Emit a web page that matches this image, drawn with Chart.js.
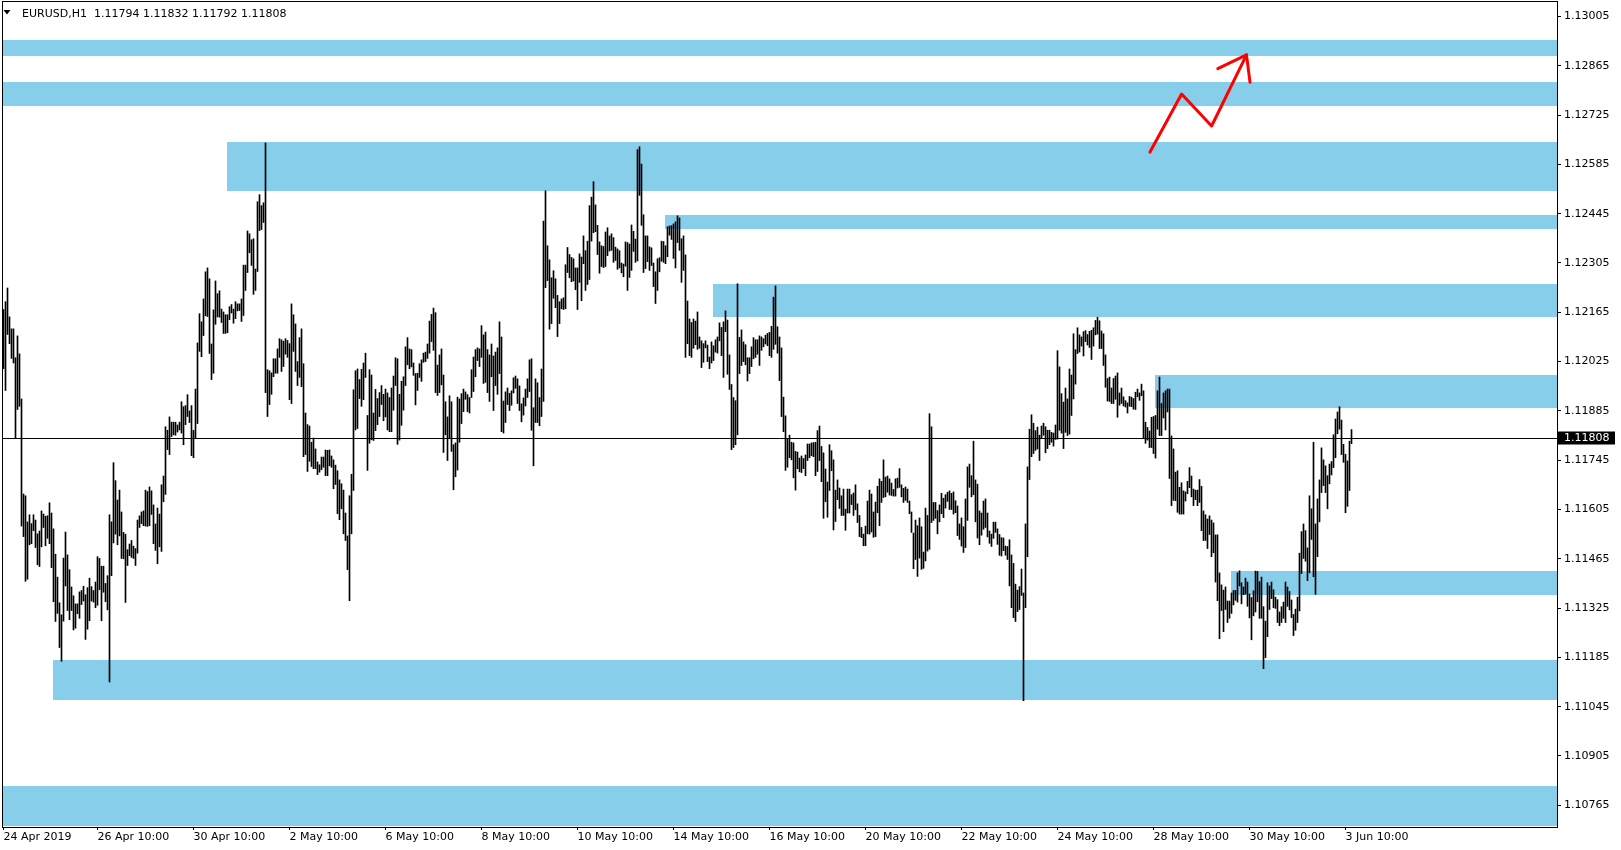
<!DOCTYPE html>
<html>
<head>
<meta charset="utf-8">
<script src="https://cdn.jsdelivr.net/npm/chart.js@4.4.1/dist/chart.umd.min.js"></script>
<style>
html,body{margin:0;padding:0;background:#fff;}
#wrap{width:1621px;height:850px;}
canvas{display:block;}
</style>
</head>
<body>
<div id="wrap"><canvas id="c" width="1621" height="850"></canvas></div>
<script>
// ---- DATA ----
const symbolName = 'EURUSD,H1';
const lastOHLC = [1.11794, 1.11832, 1.11792, 1.11808];

const highs = [
1.12173,1.12195,1.12234,1.12152,1.12118,1.12118,1.12036,1.12098,1.12047,1.11919,1.11649,1.11644,1.11570,1.11590,1.11565,1.11590,1.11575,1.11536,1.11544,1.11601,1.11592,1.11586,1.11587,1.11624,1.11595,1.11550,1.11478,1.11413,1.11340,1.11306,1.11467,1.11541,1.11476,1.11434,1.11385,1.11360,1.11337,1.11337,1.11371,1.11375,1.11387,1.11363,1.11383,1.11410,1.11386,1.11375,1.11399,1.11471,1.11466,1.11444,1.11444,1.11395,1.11417,1.11590,1.11570,1.11738,1.11687,1.11632,1.11660,1.11598,1.11540,1.11535,1.11491,1.11507,1.11517,1.11501,1.11494,1.11575,1.11587,1.11598,1.11601,1.11660,1.11656,1.11669,
1.11658,1.11618,1.11564,1.11609,1.11592,1.11675,1.11700,1.11840,1.11830,1.11868,1.11853,1.11853,1.11853,1.11845,1.11853,1.11911,1.11897,1.11900,1.11931,1.11885,1.11900,1.11830,1.11947,1.12078,1.12161,1.12138,1.12203,1.12280,1.12291,1.12260,1.12075,1.12172,1.12254,1.12218,1.12226,1.12174,1.12166,1.12158,1.12158,1.12181,1.12187,1.12174,1.12195,1.12189,1.12189,1.12203,1.12299,1.12299,1.12396,1.12388,1.12371,1.12374,1.12288,1.12479,1.12499,1.12468,1.12476,1.12646,1.12002,1.11999,1.11993,1.12033,1.12033,1.12061,1.12090,1.12087,1.12083,1.12090,1.12085,1.12076,1.12189,1.12158,1.12132,1.12025,1.12093,
1.12118,1.12019,1.11879,1.11846,1.11842,1.11796,1.11808,1.11777,1.11740,1.11732,1.11754,1.11754,1.11774,1.11773,1.11774,1.11757,1.11746,1.11731,1.11715,1.11689,1.11678,1.11660,1.11595,1.11530,1.11644,1.11705,1.11945,1.11999,1.12004,1.11974,1.12003,1.12021,1.12049,1.11872,1.12002,1.11987,1.11879,1.11946,1.11920,1.11937,1.11957,1.11932,1.11947,1.11936,1.11923,1.11950,1.11984,1.12036,1.12033,1.11932,1.11969,1.11982,1.12067,1.12093,1.12061,1.12059,1.12021,1.11991,1.11992,1.12019,1.12030,1.12049,1.12052,1.12075,1.12140,1.12159,1.12177,1.12164,1.12015,1.12044,1.12061,1.11987,1.11911,1.11868,1.11928,
1.11911,1.11789,1.11794,1.11924,1.11919,1.11934,1.11947,1.11939,1.11931,1.11923,1.12002,1.12038,1.12059,1.12064,1.12061,1.12127,1.12101,1.12109,1.12059,1.12044,1.12075,1.12041,1.12052,1.12064,1.12138,1.12095,1.11913,1.11939,1.11950,1.11935,1.11942,1.11979,1.11984,1.11976,1.11956,1.11905,1.11922,1.11947,1.11976,1.12030,1.12033,1.11894,1.11976,1.11965,1.11923,1.12004,1.12424,1.12510,1.12354,1.12314,1.12263,1.12283,1.12260,1.12213,1.12195,1.12203,1.12206,1.12300,1.12349,1.12329,1.12321,1.12317,1.12291,1.12291,1.12331,1.12322,1.12382,1.12340,1.12367,1.12468,1.12492,1.12536,1.12470,1.12412,1.12365,
1.12354,1.12352,1.12393,1.12405,1.12382,1.12388,1.12377,1.12350,1.12345,1.12340,1.12305,1.12302,1.12365,1.12363,1.12359,1.12413,1.12395,1.12373,1.12627,1.12635,1.12586,1.12442,1.12382,1.12382,1.12351,1.12348,1.12305,1.12280,1.12317,1.12320,1.12367,1.12366,1.12354,1.12408,1.12410,1.12411,1.12416,1.12422,1.12439,1.12433,1.12374,1.12382,1.12328,1.12197,1.12146,1.12136,1.12146,1.12140,1.12166,1.12095,1.12084,1.12076,1.12084,1.12072,1.12038,1.12081,1.12070,1.12087,1.12095,1.12135,1.12122,1.12138,1.12169,1.12143,1.12044,1.11960,1.11923,1.11914,1.12246,1.12094,1.12115,1.12081,1.12073,1.12036,1.12036,
1.12067,1.12093,1.12087,1.12087,1.12098,1.12095,1.12090,1.12100,1.12105,1.12108,1.12125,1.12208,1.12240,1.12124,1.12095,1.12064,1.11924,1.11871,1.11804,1.11816,1.11796,1.11794,1.11770,1.11768,1.11751,1.11757,1.11750,1.11760,1.11791,1.11791,1.11794,1.11795,1.11796,1.11829,1.11842,1.11784,1.11766,1.11720,1.11683,1.11789,1.11772,1.11746,1.11660,1.11689,1.11666,1.11644,1.11663,1.11606,1.11663,1.11663,1.11647,1.11652,1.11675,1.11621,1.11588,1.11554,1.11535,1.11558,1.11629,1.11660,1.11649,1.11598,1.11626,1.11671,1.11692,1.11685,1.11746,1.11697,1.11700,1.11692,1.11680,1.11662,1.11692,1.11694,1.11721,
1.11675,1.11665,1.11669,1.11663,1.11629,1.11598,1.11538,1.11575,1.11559,1.11581,1.11556,1.11484,1.11609,1.11588,1.11877,1.11840,1.11625,1.11625,1.11602,1.11618,1.11651,1.11637,1.11647,1.11654,1.11658,1.11651,1.11655,1.11630,1.11615,1.11564,1.11581,1.11556,1.11635,1.11726,1.11734,1.11701,1.11799,1.11689,1.11677,1.11601,1.11595,1.11629,1.11635,1.11595,1.11544,1.11535,1.11569,1.11569,1.11550,1.11534,1.11525,1.11524,1.11501,1.11500,1.11519,1.11476,1.11452,1.11393,1.11376,1.11386,1.11436,1.11368,1.11564,1.11726,1.11833,1.11874,1.11850,1.11829,1.11839,1.11816,1.11842,1.11850,1.11840,1.11830,1.11830,
1.11824,1.11822,1.11845,1.12056,1.12010,1.11934,1.11910,1.11950,1.11919,1.12004,1.11987,1.12104,1.12059,1.12121,1.12101,1.12095,1.12110,1.12113,1.12102,1.12111,1.12114,1.12121,1.12142,1.12151,1.12141,1.12112,1.12104,1.12044,1.11977,1.11981,1.11950,1.11977,1.11984,1.11993,1.11936,1.11950,1.11925,1.11914,1.11908,1.11926,1.11924,1.11920,1.11938,1.11947,1.11936,1.11961,1.11942,1.11853,1.11838,1.11828,1.11867,1.11869,1.11872,1.11942,1.11981,1.11906,1.11936,1.11942,1.11947,1.11947,1.11814,1.11777,1.11711,1.11715,1.11668,1.11681,1.11658,1.11655,1.11685,1.11724,1.11700,1.11663,1.11660,1.11660,1.11690,
1.11671,1.11601,1.11590,1.11578,1.11587,1.11575,1.11567,1.11533,1.11533,1.11425,1.11391,1.11376,1.11385,1.11345,1.11345,1.11368,1.11375,1.11375,1.11425,1.11431,1.11397,1.11385,1.11410,1.11399,1.11365,1.11355,1.11374,1.11430,1.11429,1.11400,1.11413,1.11329,1.11288,1.11397,1.11388,1.11399,1.11377,1.11356,1.11349,1.11314,1.11329,1.11342,1.11399,1.11385,1.11372,1.11348,1.11307,1.11322,1.11356,1.11481,1.11542,1.11564,1.11545,1.11496,1.11644,1.11607,1.11796,1.11564,1.11635,1.11689,1.11780,1.11746,1.11729,1.11701,1.11734,1.11741,1.11817,1.11862,1.11882,1.11897,1.11859,1.11790,1.11762,1.11743,1.11799,1.11832
];

const lows = [
1.12005,1.11943,1.12102,1.12076,1.12034,1.12021,1.11808,1.11889,1.11898,1.11558,1.11528,1.11401,1.11407,1.11505,1.11508,1.11545,1.11497,1.11448,1.11443,1.11499,1.11554,1.11502,1.11523,1.11508,1.11440,1.11343,1.11287,1.11310,1.11213,1.11174,1.11288,1.11388,1.11318,1.11292,1.11318,1.11263,1.11268,1.11309,1.11296,1.11335,1.11345,1.11236,1.11265,1.11289,1.11345,1.11342,1.11326,1.11333,1.11377,1.11289,1.11370,1.11343,1.11320,1.11115,1.11417,1.11510,1.11535,1.11505,1.11530,1.11466,1.11465,1.11341,1.11446,1.11474,1.11469,1.11466,1.11446,1.11481,1.11554,1.11565,1.11559,1.11558,1.11557,1.11559,
1.11591,1.11508,1.11489,1.11451,1.11499,1.11486,1.11627,1.11648,1.11775,1.11761,1.11812,1.11817,1.11816,1.11825,1.11831,1.11822,1.11789,1.11846,1.11869,1.11852,1.11758,1.11752,1.11808,1.11849,1.12054,1.12039,1.12099,1.12155,1.12153,1.12048,1.11974,1.11992,1.12131,1.12152,1.12151,1.12136,1.12105,1.12105,1.12107,1.12144,1.12163,1.12134,1.12147,1.12169,1.12170,1.12139,1.12156,1.12227,1.12278,1.12334,1.12298,1.12216,1.12227,1.12281,1.12397,1.12400,1.12420,1.11937,1.11869,1.11903,1.11932,1.11982,1.11992,1.11992,1.12037,1.11997,1.12011,1.12046,1.12037,1.11917,1.11906,1.12054,1.11997,1.11957,1.11980,
1.11954,1.11755,1.11761,1.11713,1.11742,1.11727,1.11721,1.11721,1.11704,1.11711,1.11718,1.11725,1.11701,1.11701,1.11729,1.11725,1.11664,1.11676,1.11593,1.11576,1.11607,1.11536,1.11517,1.11434,1.11346,1.11536,1.11659,1.11831,1.11835,1.11920,1.11898,1.11917,1.11980,1.11716,1.11793,1.11803,1.11801,1.11829,1.11846,1.11869,1.11903,1.11857,1.11868,1.11831,1.11826,1.11826,1.11887,1.11957,1.11790,1.11802,1.11844,1.11887,1.11957,1.12016,1.12005,1.12010,1.11986,1.11902,1.11943,1.11980,1.11969,1.12023,1.12025,1.12034,1.12049,1.12082,1.12057,1.11937,1.11929,1.11937,1.11959,1.11767,1.11817,1.11744,1.11808,
1.11770,1.11661,1.11698,1.11717,1.11796,1.11849,1.11883,1.11918,1.11883,1.11879,1.11923,1.11940,1.11982,1.12028,1.12011,1.12037,1.11963,1.11966,1.11937,1.11912,1.11982,1.11886,1.11957,1.11932,1.11991,1.11826,1.11822,1.11852,1.11903,1.11886,1.11901,1.11936,1.11949,1.11906,1.11886,1.11854,1.11873,1.11899,1.11923,1.11940,1.11830,1.11729,1.11852,1.11852,1.11843,1.11869,1.11912,1.12235,1.12255,1.12117,1.12133,1.12205,1.12178,1.12096,1.12133,1.12175,1.12173,1.12175,1.12278,1.12263,1.12252,1.12254,1.12229,1.12173,1.12250,1.12198,1.12303,1.12227,1.12244,1.12258,1.12367,1.12391,1.12394,1.12329,1.12276,
1.12295,1.12292,1.12295,1.12326,1.12339,1.12341,1.12307,1.12312,1.12287,1.12291,1.12277,1.12266,1.12296,1.12227,1.12264,1.12284,1.12338,1.12307,1.12311,1.12497,1.12412,1.12278,1.12289,1.12309,1.12284,1.12298,1.12238,1.12190,1.12227,1.12280,1.12310,1.12307,1.12303,1.12323,1.12384,1.12372,1.12318,1.12291,1.12363,1.12341,1.12250,1.12284,1.12037,1.12076,1.12042,1.12037,1.12063,1.12073,1.12060,1.12063,1.12008,1.12023,1.12064,1.12025,1.12005,1.12021,1.12028,1.12052,1.12049,1.12084,1.12042,1.11980,1.12110,1.11989,1.11946,1.11775,1.11781,1.11789,1.11817,1.11991,1.12014,1.12025,1.12016,1.11970,1.11991,
1.12011,1.12033,1.12037,1.12046,1.12014,1.12057,1.12067,1.12075,1.12070,1.12042,1.12037,1.12060,1.12074,1.12049,1.11971,1.11869,1.11826,1.11716,1.11725,1.11752,1.11746,1.11695,1.11660,1.11721,1.11712,1.11710,1.11721,1.11701,1.11744,1.11752,1.11758,1.11755,1.11701,1.11713,1.11744,1.11684,1.11580,1.11627,1.11583,1.11659,1.11715,1.11547,1.11571,1.11633,1.11608,1.11588,1.11588,1.11546,1.11595,1.11595,1.11619,1.11588,1.11604,1.11568,1.11528,1.11525,1.11502,1.11502,1.11536,1.11535,1.11541,1.11526,1.11528,1.11596,1.11559,1.11625,1.11639,1.11641,1.11654,1.11646,1.11645,1.11643,1.11643,1.11666,1.11668,
1.11641,1.11625,1.11631,1.11625,1.11593,1.11540,1.11437,1.11463,1.11415,1.11467,1.11435,1.11438,1.11459,1.11487,1.11492,1.11568,1.11574,1.11580,1.11536,1.11570,1.11593,1.11582,1.11609,1.11628,1.11605,1.11605,1.11592,1.11596,1.11531,1.11520,1.11501,1.11483,1.11497,1.11574,1.11668,1.11641,1.11647,1.11570,1.11524,1.11505,1.11532,1.11549,1.11554,1.11527,1.11509,1.11500,1.11523,1.11540,1.11506,1.11475,1.11473,1.11488,1.11475,1.11463,1.11388,1.11326,1.11298,1.11287,1.11315,1.11321,1.11361,1.11062,1.11326,1.11471,1.11690,1.11755,1.11764,1.11773,1.11777,1.11744,1.11806,1.11816,1.11766,1.11778,1.11789,
1.11796,1.11785,1.11804,1.11805,1.11830,1.11822,1.11778,1.11824,1.11815,1.11819,1.11872,1.11919,1.11961,1.12048,1.12052,1.12069,1.12041,1.12082,1.12072,1.12065,1.12031,1.12069,1.12101,1.12103,1.12062,1.12062,1.12014,1.11952,1.11913,1.11912,1.11906,1.11906,1.11918,1.11867,1.11901,1.11906,1.11899,1.11896,1.11879,1.11898,1.11897,1.11890,1.11889,1.11925,1.11915,1.11928,1.11808,1.11793,1.11802,1.11781,1.11781,1.11764,1.11751,1.11833,1.11815,1.11815,1.11865,1.11831,1.11882,1.11693,1.11616,1.11631,1.11630,1.11597,1.11592,1.11592,1.11592,1.11629,1.11650,1.11667,1.11641,1.11616,1.11633,1.11616,1.11625,
1.11545,1.11517,1.11517,1.11494,1.11534,1.11471,1.11482,1.11399,1.11346,1.11238,1.11318,1.11258,1.11321,1.11284,1.11296,1.11310,1.11334,1.11347,1.11342,1.11388,1.11337,1.11363,1.11365,1.11330,1.11297,1.11235,1.11303,1.11314,1.11343,1.11296,1.11296,1.11153,1.11184,1.11244,1.11321,1.11352,1.11326,1.11324,1.11284,1.11275,1.11284,1.11296,1.11284,1.11330,1.11320,1.11298,1.11247,1.11262,1.11284,1.11317,1.11423,1.11466,1.11458,1.11403,1.11425,1.11520,1.11414,1.11364,1.11471,1.11570,1.11653,1.11673,1.11653,1.11607,1.11678,1.11703,1.11724,1.11752,1.11820,1.11833,1.11761,1.11739,1.11596,1.11614,1.11659,1.11792
];

// time axis labels (bar index -> label)
const timeTickIndex = [0,47,95,143,191,239,287,335,383,431,479,527,575,623,671];
const timeTickLabels = ['24 Apr 2019','26 Apr 10:00','30 Apr 10:00','2 May 10:00','6 May 10:00','8 May 10:00','10 May 10:00','14 May 10:00','16 May 10:00','20 May 10:00','22 May 10:00','24 May 10:00','28 May 10:00','30 May 10:00','3 Jun 10:00'];

// price axis labels
const priceTicks = [1.13005,1.12865,1.12725,1.12585,1.12445,1.12305,1.12165,1.12025,1.11885,1.11745,1.11605,1.11465,1.11325,1.11185,1.11045,1.10905,1.10765];

// supply/demand zones (start bar index, upper price, lower price)
const zoneStart = [-0.75, -0.75, 111.75, 330.75, 354.75, 575.75, 613.75, 24.75, -0.75];
const zoneHigh  = [1.12937, 1.12820, 1.12650, 1.12441, 1.12244, 1.11986, 1.11430, 1.11177, 1.10820];
const zoneLow   = [1.12893, 1.12751, 1.12510, 1.12402, 1.12151, 1.11894, 1.11363, 1.11064, 1.10705];

// hand-drawn red arrow (bar index, price)
const arrowX = [573.25, 589.05, 604.05, 621.5];
const arrowY = [1.12620, 1.12785, 1.12694, 1.12896];
const headX  = [607.15, 621.5, 623.25];
const headY  = [1.12857, 1.12896, 1.12818];

// ---- CHART ----
const FONT = '"DejaVu Sans", Verdana, sans-serif';
const PX_PER_PRICE = 35214;
const AREA_TOP = 1, AREA_BOTTOM = 827;
const yMax = priceTicks[0] + (16.5 - AREA_TOP) / PX_PER_PRICE;
const yMin = yMax - (AREA_BOTTOM - AREA_TOP) / PX_PER_PRICE;

const zonesPlugin = {
  id: 'zones',
  beforeDatasetsDraw(chart) {
    const {ctx, chartArea: ca, scales: {x, y}} = chart;
    ctx.save();
    ctx.beginPath();
    ctx.rect(ca.left, ca.top, ca.right - ca.left, ca.bottom - ca.top);
    ctx.clip();
    ctx.fillStyle = '#87CEEB';
    zoneStart.forEach((s, k) => {
      const x0 = Math.max(ca.left, Math.round(x.getPixelForValue(s)));
      const y0 = Math.round(y.getPixelForValue(zoneHigh[k]));
      const y1 = Math.round(y.getPixelForValue(zoneLow[k]));
      ctx.fillRect(x0, y0, ca.right - x0, y1 - y0);
    });
    ctx.restore();
  }
};

const overlayPlugin = {
  id: 'overlay',
  afterDatasetsDraw(chart) {
    const {ctx, chartArea: ca, scales: {y}} = chart;
    const close = lastOHLC[3];
    const yp = Math.round(y.getPixelForValue(close)) + 0.5;
    ctx.save();
    // bid line
    ctx.strokeStyle = '#000';
    ctx.lineWidth = 1;
    ctx.beginPath();
    ctx.moveTo(ca.left, yp);
    ctx.lineTo(ca.right, yp);
    ctx.stroke();
    // frame
    ctx.strokeRect(ca.left + 0.5, ca.top + 0.5, ca.right - ca.left, ca.bottom - ca.top);
    // price label
    ctx.fillStyle = '#000';
    ctx.fillRect(ca.right + 1, yp - 7, 57, 13);
    ctx.fillStyle = '#fff';
    ctx.font = '11px ' + FONT;
    ctx.textBaseline = 'middle';
    ctx.textAlign = 'left';
    ctx.fillText(close.toFixed(5), ca.right + 7, yp);
    // header
    ctx.fillStyle = '#000';
    ctx.beginPath();
    ctx.moveTo(3.5, 10); ctx.lineTo(10.5, 10); ctx.lineTo(7, 14.5); ctx.closePath();
    ctx.fill();
    ctx.textBaseline = 'alphabetic';
    ctx.fillText(symbolName, 22, 17);
    ctx.fillText(lastOHLC.map(v => v.toFixed(5)).join(' '), 94, 17);
    ctx.restore();
  }
};

const barData = highs.map((h, i) => ({x: i, y: [lows[i], h]}));

function noPad(s) {
  s.paddingTop = 0; s.paddingBottom = 0; s.paddingLeft = 0; s.paddingRight = 0;
}

new Chart(document.getElementById('c'), {
  type: 'bar',
  data: {
    datasets: [
      {
        type: 'line',
        data: arrowX.map((v, k) => ({x: v, y: arrowY[k]})),
        borderColor: '#ff0000', borderWidth: 3, pointRadius: 0, fill: false, tension: 0,
        borderCapStyle: 'round', borderJoinStyle: 'round', order: 0
      },
      {
        type: 'line',
        data: headX.map((v, k) => ({x: v, y: headY[k]})),
        borderColor: '#ff0000', borderWidth: 3, pointRadius: 0, fill: false, tension: 0,
        borderCapStyle: 'round', borderJoinStyle: 'round', order: 0
      },
      {
        type: 'bar',
        label: 'EURUSD',
        data: barData,
        backgroundColor: '#000000',
        borderWidth: 0,
        barThickness: 1,
        grouped: false,
        order: 2
      }
    ]
  },
  options: {
    responsive: false,
    animation: false,
    devicePixelRatio: 1,
    layout: {padding: {left: 2, top: AREA_TOP, right: 0, bottom: 0}},
    plugins: {legend: {display: false}, tooltip: {enabled: false}},
    scales: {
      x: {
        type: 'linear', position: 'bottom',
        min: -0.75, max: 776.75, offset: false,
        grid: {display: true, drawOnChartArea: false, drawTicks: true, tickLength: 3, color: '#000', offset: false},
        border: {display: false},
        ticks: {
          autoSkip: false, maxRotation: 0, minRotation: 0, align: 'start', padding: 1,
          color: '#000', font: {family: FONT, size: 11},
          callback: (v) => { const k = timeTickIndex.indexOf(v); return k >= 0 ? timeTickLabels[k] : ''; }
        },
        afterBuildTicks: (s) => { s.ticks = timeTickIndex.map(v => ({value: v})); },
        afterFit: (s) => { s.height = 850 - AREA_BOTTOM; noPad(s); }
      },
      y: {
        type: 'linear', position: 'right',
        min: yMin, max: yMax, beginAtZero: false,
        grid: {display: true, drawOnChartArea: false, drawTicks: true, tickLength: 4, color: '#000'},
        border: {display: false},
        ticks: {
          padding: 3, color: '#000', font: {family: FONT, size: 11},
          callback: (v) => Number(v).toFixed(5)
        },
        afterBuildTicks: (s) => { s.ticks = priceTicks.map(v => ({value: v})); },
        afterFit: (s) => { s.width = 64; noPad(s); }
      }
    }
  },
  plugins: [zonesPlugin, overlayPlugin]
});
</script>
</body>
</html>
